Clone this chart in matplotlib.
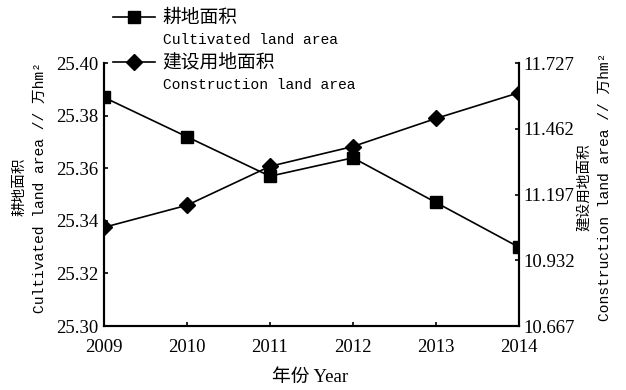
import matplotlib
matplotlib.use('Agg')
import matplotlib.pyplot as plt
from matplotlib.lines import Line2D

# years and the two land-use series (10^4 hm2)
years = [2009, 2010, 2011, 2012, 2013, 2014]
cultivated = [25.387, 25.372, 25.357, 25.364, 25.347, 25.330]
construction = [11.065, 11.154, 11.311, 11.391, 11.504, 11.608]

left_ticks = [25.30, 25.32, 25.34, 25.36, 25.38, 25.40]
right_ticks = [10.667, 10.932, 11.197, 11.462, 11.727]

num_font = ['Liberation Serif', 'Noto Sans CJK SC']
mono_font = ['Liberation Mono', 'Noto Sans CJK SC']
cjk_font = ['Noto Sans CJK SC', 'Liberation Serif']

fig = plt.figure(figsize=(6.26, 3.9), dpi=100)
ax = fig.add_axes([0.1661, 0.164, 0.6629, 0.674])
ax2 = ax.twinx()

ax.plot(years, cultivated, color='black', lw=1.2, marker='s', ms=8, zorder=3)
ax2.plot(years, construction, color='black', lw=1.2, marker='D', ms=8, zorder=3)

ax.set_xlim(2009, 2014)
ax.set_ylim(25.30, 25.40)
ax2.set_ylim(10.667, 11.727)

ax.set_xticks(years)
ax.set_xticklabels([str(y) for y in years], family=num_font, fontsize=13.5)
ax.set_yticks(left_ticks)
ax.set_yticklabels(['%.2f' % v for v in left_ticks], family=num_font, fontsize=13.5)
ax2.set_yticks(right_ticks)
ax2.set_yticklabels(['%.3f' % v for v in right_ticks], family=num_font, fontsize=13.5)

ax.tick_params(axis='both', direction='in', length=3, width=1.2)
ax.tick_params(axis='y', pad=4)
ax.tick_params(axis='x', pad=9)
ax2.tick_params(axis='y', direction='in', length=3, width=1.2, pad=3)

for a in (ax, ax2):
    a.spines['top'].set_visible(False)
    for s in ('left', 'right', 'bottom'):
        a.spines[s].set_linewidth(1.5)

# axis titles
fig.text(0.047, 0.52, '耕地面积\nCultivated land area // 万hm²', rotation=90,
         ha='center', va='center', ma='center', family=mono_font, fontsize=10.5,
         linespacing=1.6)
fig.text(0.949, 0.52, '建设用地面积\nConstruction land area // 万hm²', rotation=90,
         ha='center', va='center', ma='center', family=mono_font, fontsize=10.5,
         linespacing=1.6)
fig.text(0.495, 0.032, '年份 Year', ha='center', va='center', family=num_font,
         fontsize=13.5)

# legend keys above the plot
keys = [('s', '耕地面积', 'Cultivated land area', 0.956),
        ('D', '建设用地面积', 'Construction land area', 0.841)]
for mk, zh, en, yk in keys:
    fig.add_artist(Line2D([0.181, 0.248], [yk, yk], color='black', lw=1.2,
                          transform=fig.transFigure))
    fig.add_artist(Line2D([0.214], [yk], color='black', marker=mk, ms=8,
                          transform=fig.transFigure))
    fig.text(0.26, yk, zh, ha='left', va='center', family=cjk_font, fontsize=13.5)
    fig.text(0.26, yk - 0.059, en, ha='left', va='center', family=mono_font,
             fontsize=10.5)

fig.savefig('out.png', dpi=100)
